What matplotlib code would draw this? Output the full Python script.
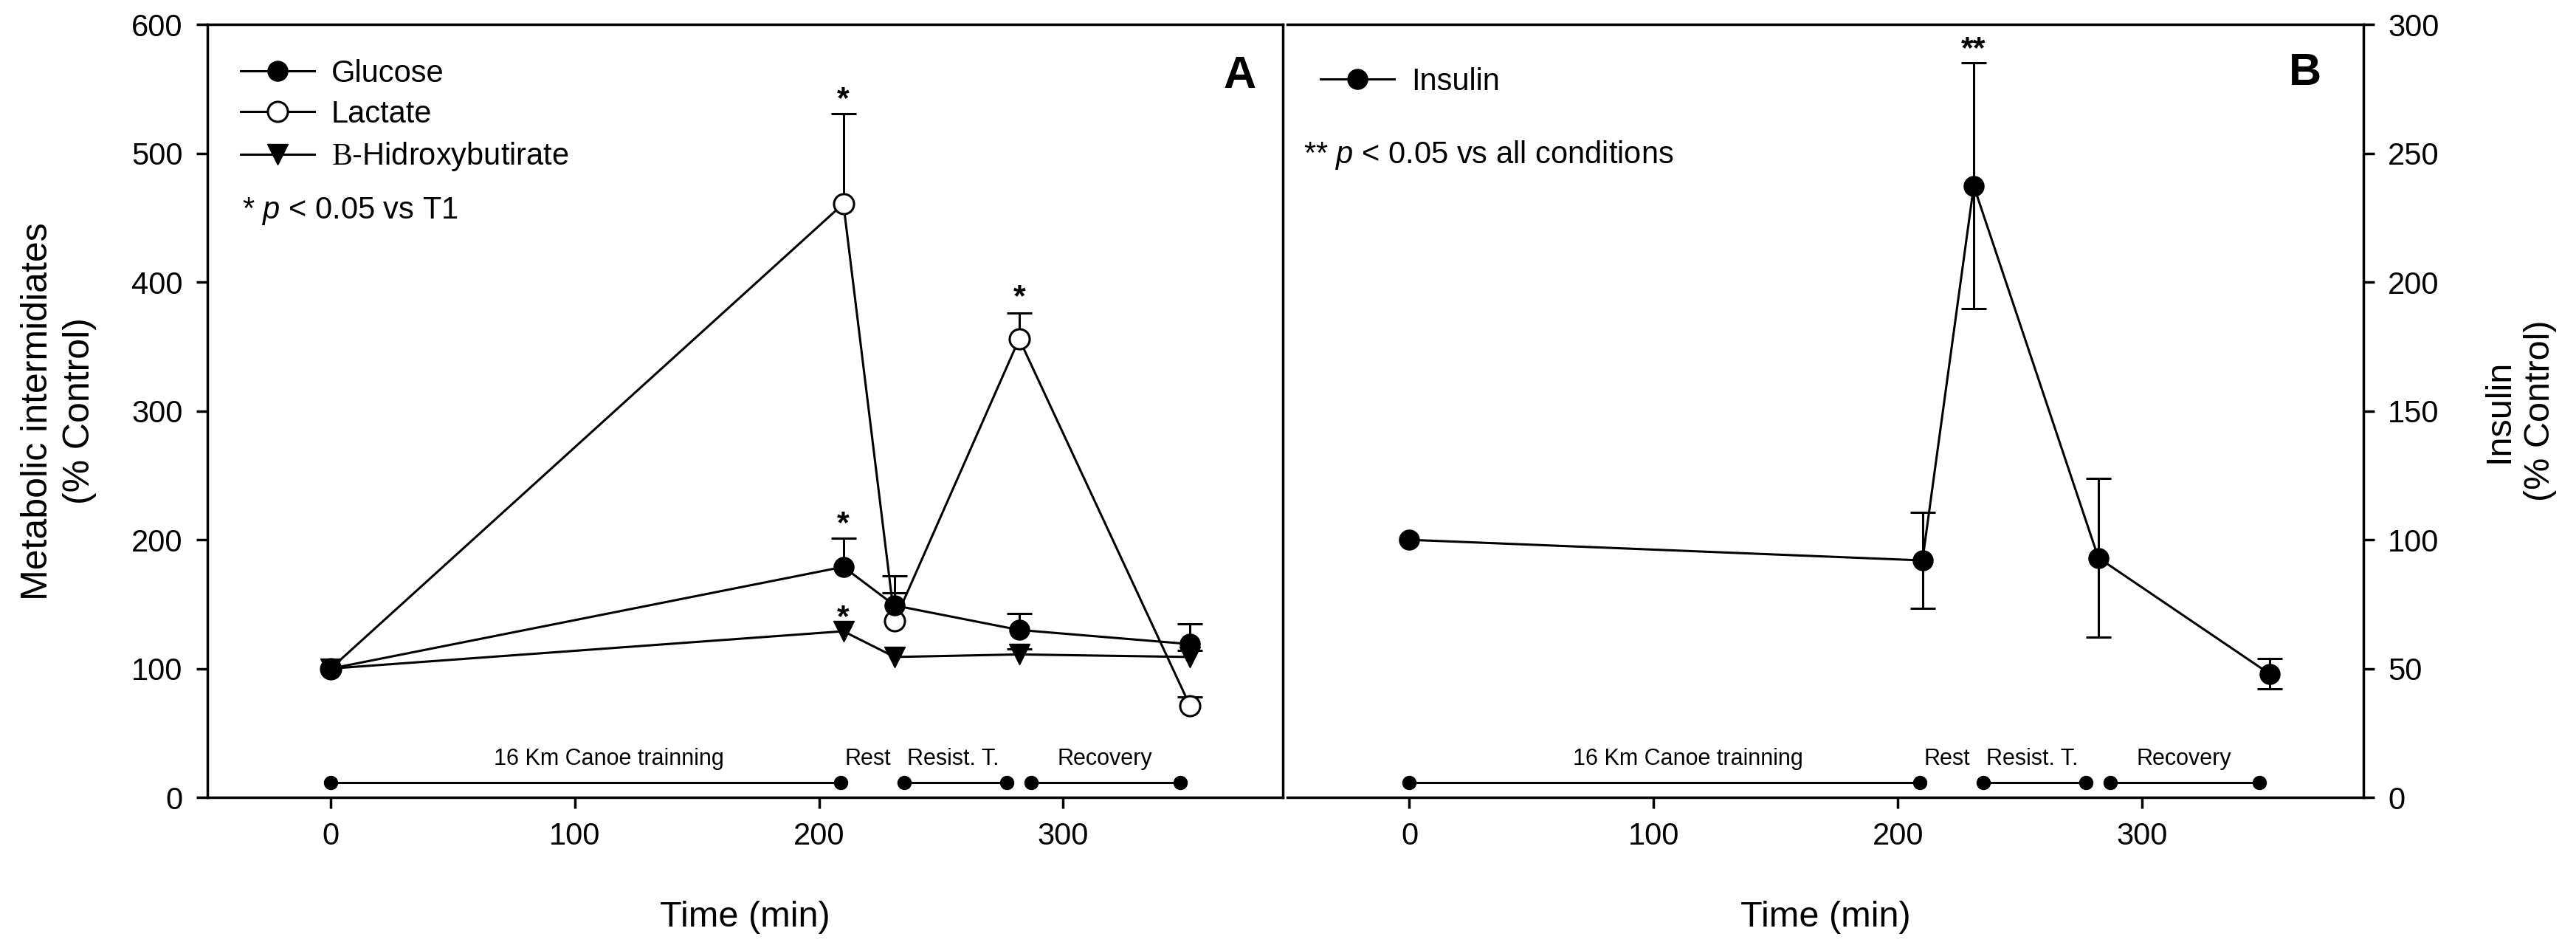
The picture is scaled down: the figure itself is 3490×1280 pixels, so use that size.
import numpy as np
import matplotlib
matplotlib.use('Agg')
import matplotlib.pyplot as plt
from matplotlib.lines import Line2D

plt.rcParams['font.family'] = ['Liberation Sans', 'DejaVu Sans']
plt.rcParams['mathtext.fontset'] = 'custom'
plt.rcParams['mathtext.rm'] = 'Liberation Serif'
plt.rcParams['mathtext.it'] = 'Liberation Sans:italic'

# ---- data ----
time_pts = [0, 210, 231, 282, 352]

glucose = [100, 179, 149, 130, 119]
glucose_err = [0, 22, 23, 13, 16]
lactate = [100, 461, 137, 356, 71]
lactate_err = [0, 70, 22, 20, 7]
bhb = [100, 129, 109, 111, 109]
bhb_err = [0, 0, 0, 4.5, 5]

insulin = [100, 92, 237.4, 93, 48]
insulin_err = [0, 18.7, 47.7, 30.8, 6]

# significance marks (x, y)
stars_a = [(210, 542), (210, 212), (210, 139), (282, 388)]
stars_b = [(231, 290.5)]

# experimental phases
phase_bars = [(0, 209), (235, 277), (287, 348)]
phase_labels = ['16 Km Canoe trainning', 'Rest', 'Resist. T.', 'Recovery']
phase_label_x = [114, 220, 255, 317]

LW = 2.2
MS = 19.5

fig = plt.figure(figsize=(34.91, 12.8), dpi=100)
axA = fig.add_axes([0.0805, 0.15625, 0.41736, 0.81758])
axB = fig.add_axes([0.49957, 0.15625, 0.41765, 0.81758])


def upper_bars(ax, x, y, err):
    x = np.array(x, float)
    y = np.array(y, float)
    err = np.array(err, float)
    m = err > 0
    ax.vlines(x[m], y[m], y[m] + err[m], color='k', lw=LW, zorder=2)
    ax.plot(x[m], y[m] + err[m], ls='none', marker='_', ms=24, mew=LW,
            color='k', zorder=2)


def both_bars(ax, x, y, err):
    x = np.array(x, float)
    y = np.array(y, float)
    err = np.array(err, float)
    m = err > 0
    ax.vlines(x[m], y[m] - err[m], y[m] + err[m], color='k', lw=LW, zorder=2)
    ax.plot(x[m], y[m] + err[m], ls='none', marker='_', ms=24, mew=LW,
            color='k', zorder=2)
    ax.plot(x[m], y[m] - err[m], ls='none', marker='_', ms=24, mew=LW,
            color='k', zorder=2)


# ---- panel A ----
upper_bars(axA, time_pts, lactate, lactate_err)
upper_bars(axA, time_pts, glucose, glucose_err)
upper_bars(axA, time_pts, bhb, bhb_err)
axA.plot(time_pts, bhb, color='k', lw=LW, marker='v', ms=MS + 1,
         mfc='k', mec='k', zorder=3)
axA.plot(time_pts, lactate, color='k', lw=LW, marker='o', ms=MS,
         mfc='white', mec='k', mew=LW, zorder=4)
axA.plot(time_pts, glucose, color='k', lw=LW, marker='o', ms=MS,
         mfc='k', mec='k', zorder=5)

for sx, sy in stars_a:
    axA.text(sx, sy, '*', ha='center', va='center', fontsize=31,
             fontweight='bold')

axA.set_xlim(-50.5, 390)
axA.set_ylim(0, 600)
axA.set_xticks([0, 100, 200, 300])
axA.set_yticks(range(0, 601, 100))

handles = [
    Line2D([], [], color='k', lw=LW, marker='o', ms=MS, mfc='k', mec='k'),
    Line2D([], [], color='k', lw=LW, marker='o', ms=MS, mfc='white', mec='k', mew=LW),
    Line2D([], [], color='k', lw=LW, marker='v', ms=MS + 1, mfc='k', mec='k'),
]
axA.legend(handles, ['Glucose', 'Lactate', r'$\mathrm{B}$-Hidroxybutirate'],
           loc='upper left', bbox_to_anchor=(0.031, 0.956), frameon=False,
           fontsize=30, handlelength=2.4, handletextpad=0.55,
           labelspacing=0.37, borderpad=0, borderaxespad=0)
axA.text(0.032, 0.759, r'* $p$ < 0.05 vs T1', transform=axA.transAxes,
         ha='left', va='center', fontsize=30)
axA.text(0.975, 0.933, 'A', transform=axA.transAxes, ha='right',
         va='center', fontsize=44, fontweight='bold')

# ---- panel B ----
both_bars(axB, time_pts, insulin, insulin_err)
axB.plot(time_pts, insulin, color='k', lw=LW, marker='o', ms=MS,
         mfc='k', mec='k', zorder=5)
for sx, sy in stars_b:
    axB.text(sx, sy, '**', ha='center', va='center', fontsize=31,
             fontweight='bold')

axB.set_xlim(-50, 390.5)
axB.set_ylim(0, 300)
axB.set_xticks([0, 100, 200, 300])
axB.set_yticks(range(0, 301, 50))
axB.yaxis.tick_right()
axB.yaxis.set_label_position('right')
axB.spines['left'].set_visible(False)

axB.legend([Line2D([], [], color='k', lw=LW, marker='o', ms=MS, mfc='k', mec='k')],
           ['Insulin'], loc='upper left', bbox_to_anchor=(0.031, 0.945),
           frameon=False, fontsize=30, handlelength=2.4, handletextpad=0.55,
           borderpad=0, borderaxespad=0)
axB.text(0.015, 0.831, r'** $p$ < 0.05 vs all conditions',
         transform=axB.transAxes, ha='left', va='center', fontsize=30)
axB.text(0.961, 0.937, 'B', transform=axB.transAxes, ha='right',
         va='center', fontsize=44, fontweight='bold')

# ---- phase bars, common styling ----
for ax, ybar, ylab in [(axA, 11.5, 25), (axB, 5.75, 12.5)]:
    for x0, x1 in phase_bars:
        ax.plot([x0, x1], [ybar, ybar], color='k', lw=LW, marker='o', ms=13,
                zorder=3, clip_on=False)
    for lab, lx in zip(phase_labels, phase_label_x):
        ax.text(lx, ylab, lab, ha='center', va='baseline', fontsize=22)
    for sp in ax.spines.values():
        sp.set_linewidth(2.5)
    ax.tick_params(direction='out', length=11, width=2.5, labelsize=30, pad=13)
    ax.set_xlabel('Time (min)', fontsize=35, labelpad=48)

axA.tick_params(top=False, right=False)
axB.tick_params(left=False, top=False)

axA.set_ylabel('Metabolic intermidiates\n(% Control)', fontsize=36,
               linespacing=1.3, labelpad=34)
axB.set_ylabel('Insulin\n(% Control)', fontsize=35,
               linespacing=1.3, rotation=90, labelpad=42)

fig.savefig('out.png', dpi=100)
